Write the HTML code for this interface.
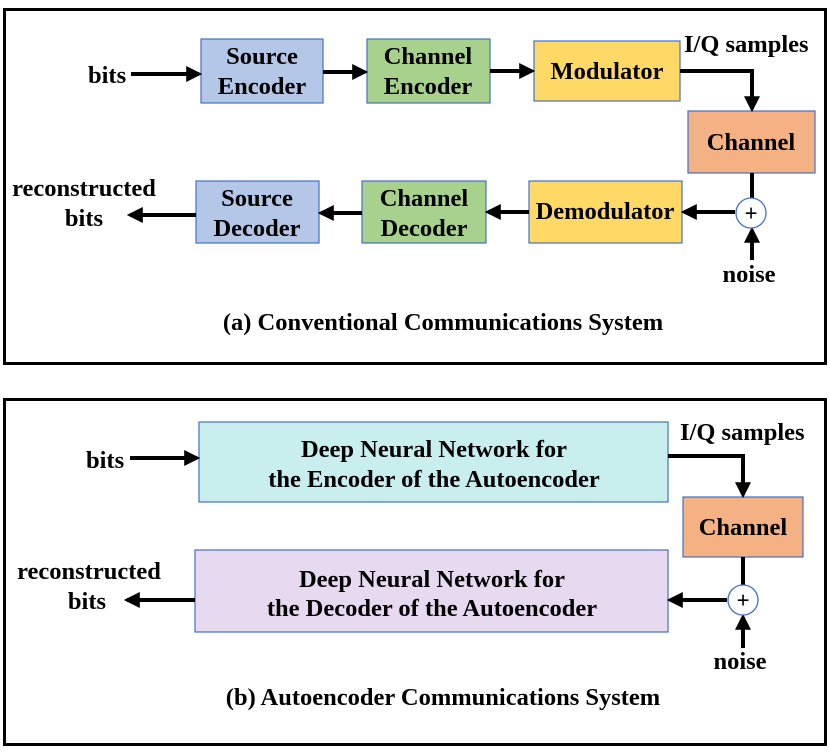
<!DOCTYPE html>
<html><head><meta charset="utf-8"><style>
html,body{margin:0;padding:0;background:#fff;}
svg{display:block;}
text{font-family:"Liberation Serif",serif;font-weight:bold;font-size:24.5px;fill:#000;}
</style></head><body>
<svg width="830" height="755" viewBox="0 0 830 755" xmlns="http://www.w3.org/2000/svg">
<defs>
<marker id="ah" markerWidth="4" markerHeight="4" refX="3.2" refY="2" orient="auto" markerUnits="strokeWidth">
<path d="M0,0 L4,2 L0,4 Z" fill="#000"/></marker>
</defs>
<!-- Panel a -->
<rect x="4.5" y="9.5" width="821" height="354" fill="none" stroke="#000" stroke-width="3"/>
<g stroke="#4472c4" stroke-width="1.2">
<rect x="201" y="39" width="122" height="64" fill="#b4c7e7"/>
<rect x="367" y="39" width="123" height="64" fill="#a9d18e"/>
<rect x="534" y="41" width="146" height="60" fill="#ffd966"/>
<rect x="688" y="111" width="127" height="62" fill="#f4b183"/>
<rect x="529" y="181" width="153" height="62" fill="#ffd966"/>
<rect x="362" y="181" width="124" height="62" fill="#a9d18e"/>
<rect x="196" y="181" width="123" height="62" fill="#b4c7e7"/>
</g>
<g stroke="#000" stroke-width="4" fill="none" marker-end="url(#ah)">
<line x1="131" y1="74" x2="199" y2="74"/>
<line x1="323" y1="72" x2="365" y2="72"/>
<line x1="490" y1="71" x2="532" y2="71"/>
<polyline points="680,71 752,71 752,109"/>
<line x1="735" y1="212" x2="684" y2="212"/>
<line x1="529" y1="212" x2="488" y2="212"/>
<line x1="362" y1="213" x2="321" y2="213"/>
<line x1="196" y1="215" x2="130" y2="215"/>
<line x1="752" y1="260" x2="752" y2="230"/>
</g>
<line x1="752" y1="173" x2="752" y2="198" stroke="#000" stroke-width="4"/>
<circle cx="751" cy="213" r="15" fill="#fff" stroke="#4472c4" stroke-width="1.3"/>
<text x="751" y="221" text-anchor="middle" style="font-size:23px">+</text>
<text x="88" y="83">bits</text>
<text x="262" y="64" text-anchor="middle">Source</text>
<text x="262" y="94" text-anchor="middle">Encoder</text>
<text x="428" y="64" text-anchor="middle">Channel</text>
<text x="428" y="94" text-anchor="middle">Encoder</text>
<text x="607" y="79" text-anchor="middle">Modulator</text>
<text x="684" y="52">I/Q samples</text>
<text x="751" y="150" text-anchor="middle">Channel</text>
<text x="605" y="219" text-anchor="middle">Demodulator</text>
<text x="424" y="206" text-anchor="middle">Channel</text>
<text x="424" y="236" text-anchor="middle">Decoder</text>
<text x="257" y="206" text-anchor="middle">Source</text>
<text x="257" y="236" text-anchor="middle">Decoder</text>
<text x="84" y="196" text-anchor="middle">reconstructed</text>
<text x="84" y="226" text-anchor="middle">bits</text>
<text x="749" y="282" text-anchor="middle">noise</text>
<text x="443" y="330" text-anchor="middle">(a) Conventional Communications System</text>
<!-- Panel b -->
<rect x="4.5" y="399.5" width="821" height="345" fill="none" stroke="#000" stroke-width="3"/>
<g stroke="#4472c4" stroke-width="1.2">
<rect x="199" y="422" width="469" height="80" fill="#c8eeee"/>
<rect x="683" y="497" width="120" height="60" fill="#f4b183"/>
<rect x="195" y="550" width="473" height="82" fill="#e6d9f0"/>
</g>
<g stroke="#000" stroke-width="4" fill="none" marker-end="url(#ah)">
<line x1="130" y1="458" x2="197" y2="458"/>
<polyline points="668,456 743,456 743,495"/>
<line x1="727" y1="600" x2="670" y2="600"/>
<line x1="195" y1="600" x2="127" y2="600"/>
<line x1="743" y1="648" x2="743" y2="617"/>
</g>
<line x1="743" y1="557" x2="743" y2="585" stroke="#000" stroke-width="4"/>
<circle cx="743" cy="600" r="15" fill="#fff" stroke="#4472c4" stroke-width="1.3"/>
<text x="743" y="608" text-anchor="middle" style="font-size:23px">+</text>
<text x="86" y="468">bits</text>
<text x="434" y="457" text-anchor="middle">Deep Neural Network for</text>
<text x="434" y="487" text-anchor="middle">the Encoder of the Autoencoder</text>
<text x="680" y="440">I/Q samples</text>
<text x="743" y="535" text-anchor="middle">Channel</text>
<text x="432" y="587" text-anchor="middle">Deep Neural Network for</text>
<text x="432" y="616" text-anchor="middle">the Decoder of the Autoencoder</text>
<text x="89" y="579" text-anchor="middle">reconstructed</text>
<text x="87" y="609" text-anchor="middle">bits</text>
<text x="740" y="669" text-anchor="middle">noise</text>
<text x="443" y="705" text-anchor="middle">(b) Autoencoder Communications System</text>
</svg>
</body></html>
